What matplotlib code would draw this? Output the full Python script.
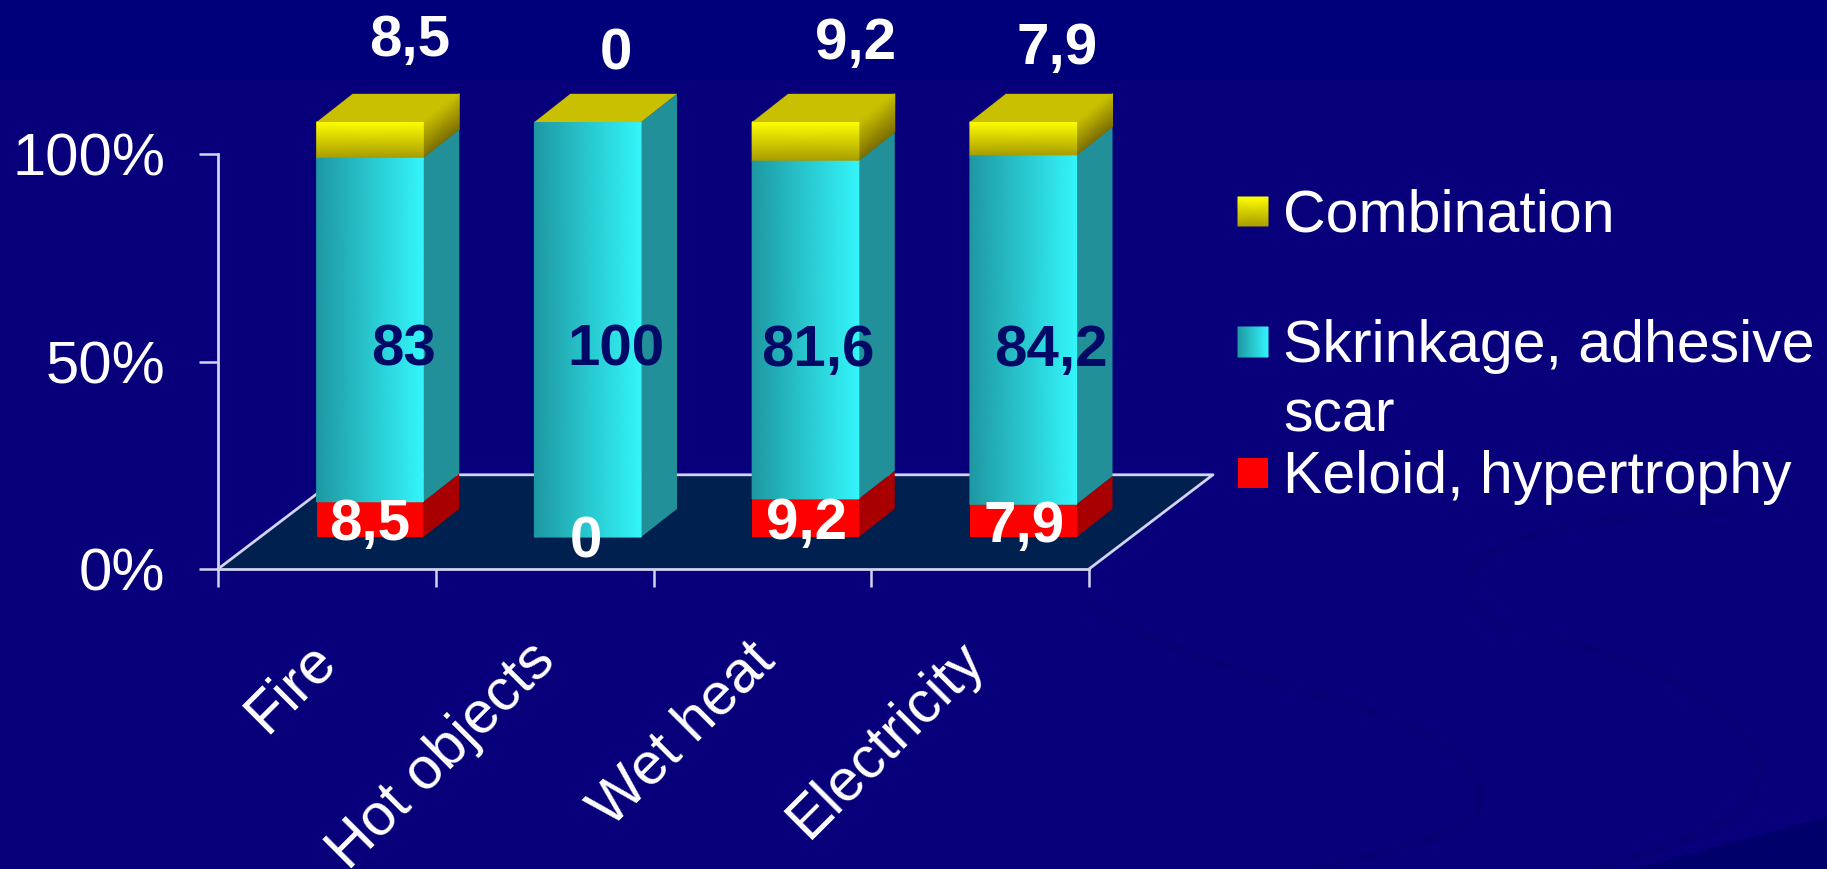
import numpy as np
import matplotlib
matplotlib.use("Agg")
import matplotlib.pyplot as plt
from matplotlib.colors import LinearSegmentedColormap
from matplotlib.patches import PathPatch, Rectangle
from matplotlib.path import Path

# --- DATA ---
categories = ["Fire", "Hot objects", "Wet heat", "Electricity"]
keloid = [8.5, 0, 9.2, 7.9]
shrinkage = [83, 100, 81.6, 84.2]
combination = [8.5, 0, 9.2, 7.9]
keloid_labels = ["8,5", "0", "9,2", "7,9"]
shrinkage_labels = ["83", "100", "81,6", "84,2"]
combination_labels = ["8,5", "0", "9,2", "7,9"]
y_ticks = [0, 50, 100]
y_tick_labels = ["0%", "50%", "100%"]
legend_names = ["Combination", "Skrinkage, adhesive\nscar", "Keloid, hypertrophy"]

W, H = 1827, 869
plt.rcParams["font.family"] = ["Liberation Sans", "DejaVu Sans"]

# --- LAYOUT (pixels unless noted) ---
AX_LEFT, AX_RIGHT, AX_BOTTOM, AX_TOP = 218, 1089, 569, 154
FONT = 42.5
LINE = "#d2d2f2"
BAR_OFFSET = 0.453     # front-left corner of a bar, in category units
BAR_WIDTH = 0.49
BAR_BASE = 7.7         # front of the bar above the axis, in percent
DEPTH_X, DEPTH_Y = 0.165, 6.8
FLOOR_X, FLOOR_Y = 0.569, 22.7

cyan_map = LinearSegmentedColormap.from_list("c", ["#1e98a2", "#2bd0d8", "#34f6fb"])
yellow_map = LinearSegmentedColormap.from_list("y", ["#ffff00", "#f4f000", "#a89c00"])
yellow_side = LinearSegmentedColormap.from_list("ys", ["#c8c000", "#7c6e00"])


def shade_quad(ax, xs, ys, cmap, zorder):
    # corners are ordered so the colour runs along the first array axis
    vals = np.array([[0.0, 0.0], [1.0, 1.0]])
    ax.pcolormesh(np.array(xs), np.array(ys), vals, cmap=cmap, vmin=0, vmax=1,
                  shading="gouraud", clip_on=False, zorder=zorder)


fig = plt.figure(figsize=(W / 100, H / 100), dpi=100, facecolor="#08007a")

# background axes works in pixels, y pointing down
bg = fig.add_axes([0, 0, 1, 1])
bg.set_xlim(0, W)
bg.set_ylim(H, 0)
bg.axis("off")
bg.add_patch(Rectangle((0, 0), W, 80, color="#00007a", lw=0))
bg.fill([1634, W, W], [H, 817, H], color="#00006a", lw=0)

# faint curved shapes behind the legend and the lower right corner
swooshes = [
    [(1089, 600), (1200, 690), (1460, 700), (1480, 790), (1490, 830), (1400, 850), (1314, H)],
    [(1740, 510), (1440, 520), (1430, 590), (1510, 630)],
    [(1560, 640), (1720, 680), (1790, 760), (1750, 800), (1730, 830), (1650, 850), (1600, H)],
]
for pts in swooshes:
    codes = [Path.MOVETO] + [Path.CURVE4] * (len(pts) - 1)
    bg.add_patch(PathPatch(Path(pts, codes), fill=False, ec="#060074", lw=6, capstyle="round"))

# chart axes: categories along x, percent along y
ax = fig.add_axes([AX_LEFT / W, 1 - AX_BOTTOM / H,
                   (AX_RIGHT - AX_LEFT) / W, (AX_BOTTOM - AX_TOP) / H])
ax.patch.set_alpha(0)
n = len(categories)
ax.set_xlim(0, n)
ax.set_ylim(0, 100)

# floor
ax.fill([0, n, n + FLOOR_X, FLOOR_X], [0, 0, FLOOR_Y, FLOOR_Y],
        color="#00204f", lw=0, clip_on=False, zorder=1)
ax.plot([0, FLOOR_X, n + FLOOR_X, n], [0, FLOOR_Y, FLOOR_Y, 0], color=LINE, lw=2,
        clip_on=False, zorder=1.5)

# stacked bars
xs = np.arange(n) + BAR_OFFSET
b0 = np.full(n, BAR_BASE)
b1 = b0 + np.array(keloid)
b2 = b1 + np.array(shrinkage)
b3 = b2 + np.array(combination)

ax.bar(xs, keloid, BAR_WIDTH, bottom=b0, align="edge", color="#ff0000", clip_on=False, zorder=3)
ax.bar(xs, shrinkage, BAR_WIDTH, bottom=b1, align="edge", color="#2bd0d8", clip_on=False, zorder=3)
ax.bar(xs, combination, BAR_WIDTH, bottom=b2, align="edge", color="#ffff00", clip_on=False, zorder=3)

for i, x in enumerate(xs):
    r = x + BAR_WIDTH
    # side faces
    ax.fill([r, r + DEPTH_X, r + DEPTH_X, r],
            [b0[i], b0[i] + DEPTH_Y, b1[i] + DEPTH_Y, b1[i]],
            color="#a80000", lw=0, clip_on=False, zorder=2.5)
    ax.fill([r, r + DEPTH_X, r + DEPTH_X, r],
            [b1[i], b1[i] + DEPTH_Y, b2[i] + DEPTH_Y, b2[i]],
            color="#219098", lw=0, clip_on=False, zorder=2.5)
    # cyan front runs dark to bright from left to right
    shade_quad(ax, [[x, x], [r, r]], [[b1[i], b2[i]], [b1[i], b2[i]]], cyan_map, 3.1)
    if combination[i] > 0:
        shade_quad(ax, [[x, r], [x, r]], [[b3[i], b3[i]], [b2[i], b2[i]]], yellow_map, 3.1)
        shade_quad(ax, [[r, r + DEPTH_X], [r, r + DEPTH_X]],
                   [[b3[i], b3[i] + DEPTH_Y], [b2[i], b2[i] + DEPTH_Y]], yellow_side, 2.6)
    # top face
    ax.fill([x, r, r + DEPTH_X, x + DEPTH_X],
            [b3[i], b3[i], b3[i] + DEPTH_Y, b3[i] + DEPTH_Y],
            color="#c8c000", lw=0, clip_on=False, zorder=3.2)

# axes, ticks and tick labels
for side in ["top", "right"]:
    ax.spines[side].set_visible(False)
for side in ["left", "bottom"]:
    ax.spines[side].set_color(LINE)
    ax.spines[side].set_linewidth(2)
ax.set_yticks(y_ticks)
ax.set_yticklabels(y_tick_labels, color="white", fontsize=FONT + 0.5)
ax.set_xticks(np.arange(n + 1))
ax.set_xticklabels([])
ax.tick_params(axis="y", length=14, width=1.8, color=LINE, pad=24)
ax.tick_params(axis="x", length=13, width=1.8, color=LINE)

# rotated category names, the long one runs off the lower figure edge
name_x = [307, 527, 746, 956]
for i, name in enumerate(categories):
    fig.text(name_x[i] / W, 1 - 632 / H, name, rotation=45, rotation_mode="anchor",
             ha="right", va="top", color="white", fontsize=FONT)

# value labels
top_x = [410, 616, 856, 1057]
top_y = [56, 70, 59, 64]
mid_x = [404, 616, 818, 1051]
low_x = [370, 586, 807, 1024]
low_y = [540, 558, 539, 542]
style = dict(ha="center", va="baseline", fontsize=FONT - 0.5, fontweight="bold", zorder=6,
             xycoords="figure pixels", annotation_clip=False)
for i in range(n):
    ax.annotate(combination_labels[i], (top_x[i], H - top_y[i]), color="white", **style)
    ax.annotate(shrinkage_labels[i], (mid_x[i], H - 366), color="#000a66", **style)
    ax.annotate(keloid_labels[i], (low_x[i], H - low_y[i]), color="white", **style)

# legend
first_line, second_line = legend_names[1].split("\n")
bg.text(1283, 232, legend_names[0], color="white", fontsize=FONT, va="baseline")
bg.text(1283, 362, first_line, color="white", fontsize=FONT, va="baseline")
bg.text(1283, 431, second_line, color="white", fontsize=FONT, va="baseline")
bg.text(1283, 493, legend_names[2], color="white", fontsize=FONT, va="baseline")
shade_quad(bg, [[1238, 1268], [1238, 1268]], [[197, 197], [226, 226]], yellow_map, 3)
shade_quad(bg, [[1238, 1238], [1268, 1268]], [[327, 357], [327, 357]], cyan_map, 3)
bg.add_patch(Rectangle((1238, 458), 30, 30, color="#ff0000", lw=0))

fig.savefig("out.png", dpi=100, facecolor=fig.get_facecolor())
